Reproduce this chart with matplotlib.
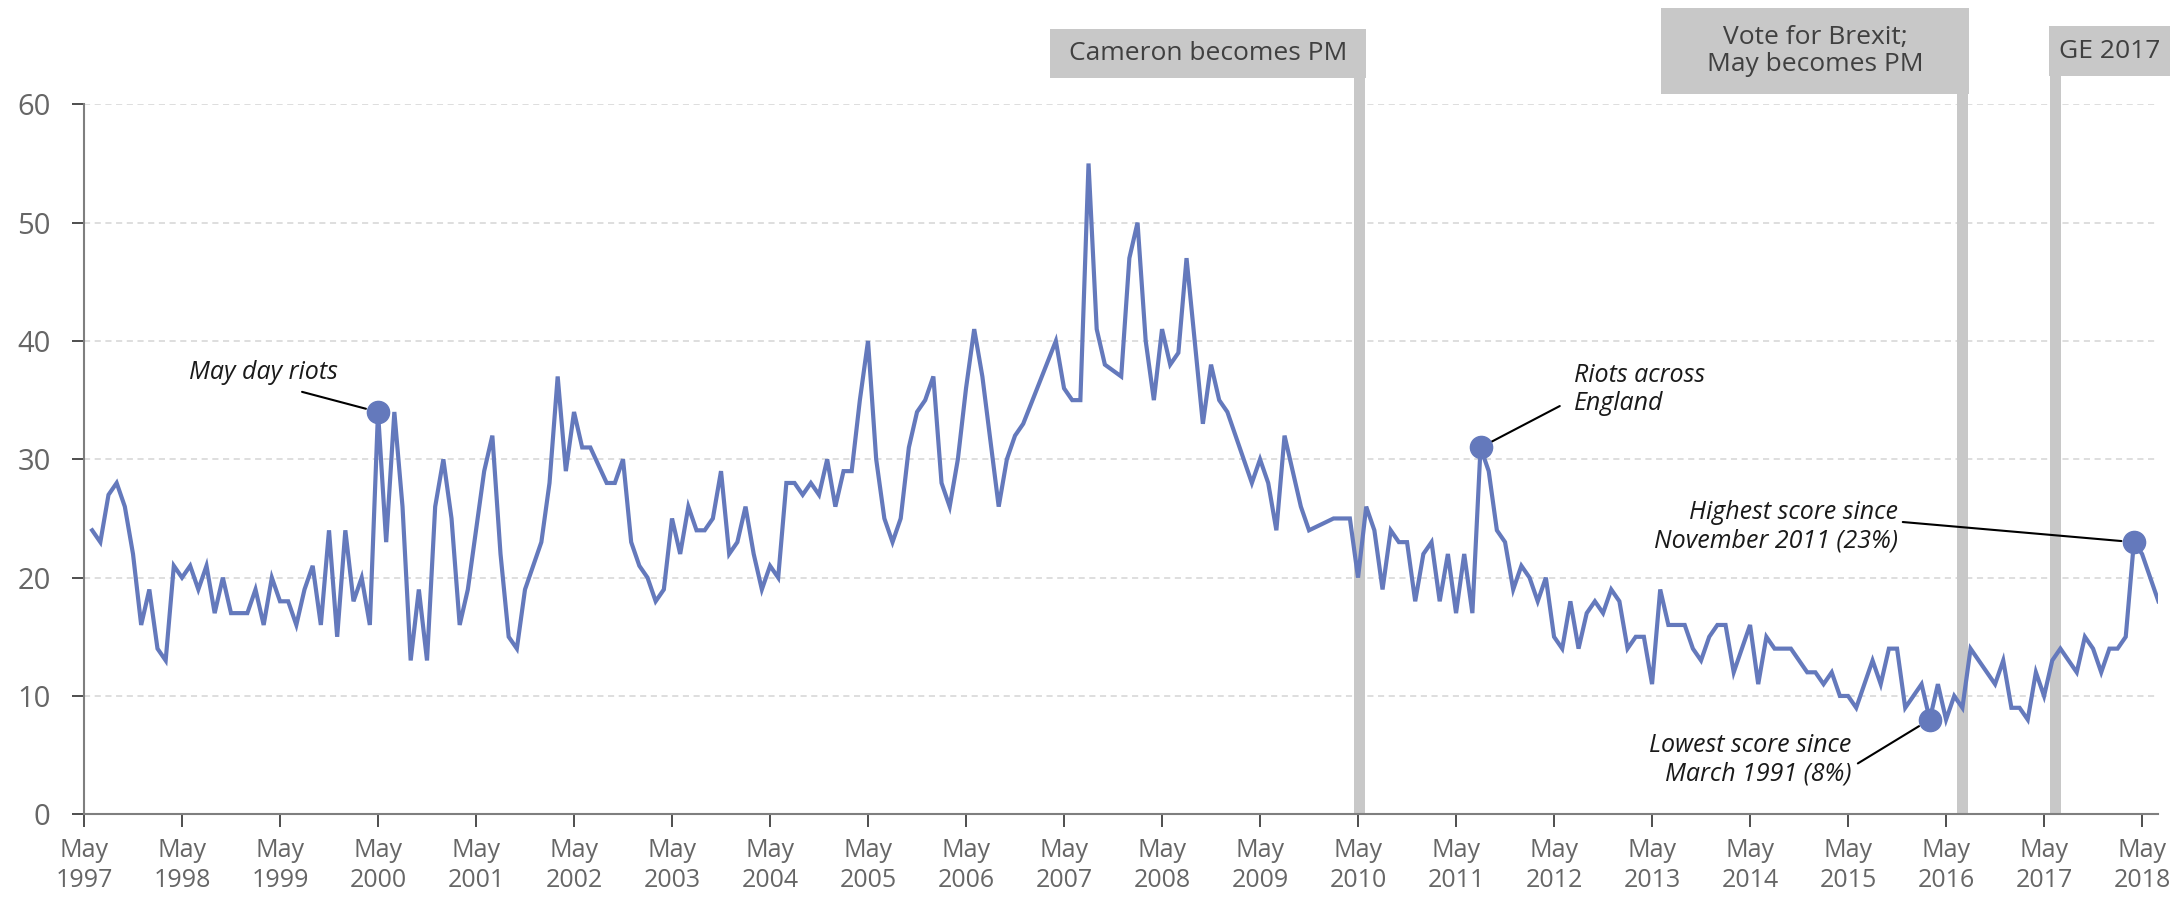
import matplotlib
matplotlib.use("Agg")
import matplotlib.pyplot as plt
from matplotlib.patches import Rectangle

plt.rcParams['font.family'] = ['Open Sans', 'DejaVu Sans']

# months counted from May 1997 (0 = May 1997); missing months are simply left out
months = [1, 2, 3, 4, 5, 6, 7, 8, 9, 10, 11, 12, 13, 14, 15, 16, 17, 18, 19, 20,
          21, 22, 23, 24, 25, 26, 27, 28, 29, 30, 31, 32, 33, 34, 35, 36, 37, 38, 39, 40,
          41, 42, 43, 44, 45, 46, 47, 48, 49, 50, 51, 52, 53, 54, 55, 56, 57, 58, 59, 60,
          61, 62, 64, 65, 66, 67, 68, 69, 70, 71, 72, 73, 74, 75, 76, 77, 78, 79, 80, 81,
          82, 83, 84, 85, 86, 87, 88, 89, 90, 91, 92, 93, 94, 95, 96, 97, 98, 99, 100, 101,
          102, 103, 104, 105, 106, 107, 108, 109, 110, 112, 113, 114, 115, 119, 120, 121,
          122, 123, 124, 125, 127, 128, 129, 130, 131, 132, 133, 134, 135, 136, 137, 138,
          139, 140, 143, 144, 145, 146, 147, 149, 150, 153, 155, 156, 157, 158, 159, 160,
          161, 162, 163, 164, 165, 166, 167, 168, 169, 170, 171, 172, 173, 174, 175, 176,
          177, 178, 179, 180, 181, 182, 183, 184, 185, 186, 187, 188, 189, 190, 191, 192,
          193, 194, 195, 196, 197, 198, 199, 200, 201, 202, 203, 204, 205, 206, 207, 208,
          209, 210, 211, 212, 213, 214, 215, 216, 217, 218, 219, 220, 221, 222, 223, 224,
          225, 226, 227, 228, 229, 230, 231, 232, 233, 234, 235, 236, 237, 238, 239, 240,
          241, 242, 243, 244, 245, 246, 247, 248, 249, 250, 251, 252, 253, 254]
crime = [24, 23, 27, 28, 26, 22, 16, 19, 14, 13, 21, 20, 21, 19, 21, 17, 20, 17, 17, 17,
         19, 16, 20, 18, 18, 16, 19, 21, 16, 24, 15, 24, 18, 20, 16, 34, 23, 34, 26, 13,
         19, 13, 26, 30, 25, 16, 19, 24, 29, 32, 22, 15, 14, 19, 21, 23, 28, 37, 29, 34,
         31, 31, 28, 28, 30, 23, 21, 20, 18, 19, 25, 22, 26, 24, 24, 25, 29, 22, 23, 26,
         22, 19, 21, 20, 28, 28, 27, 28, 27, 30, 26, 29, 29, 35, 40, 30, 25, 23, 25, 31,
         34, 35, 37, 28, 26, 30, 36, 41, 37, 26, 30, 32, 33, 40, 36, 35,
         35, 55, 41, 38, 37, 47, 50, 40, 35, 41, 38, 39, 47, 40, 33, 38,
         35, 34, 28, 30, 28, 24, 32, 26, 24, 25, 25, 20, 26, 24, 19, 24,
         23, 23, 18, 22, 23, 18, 22, 17, 22, 17, 31, 29, 24, 23, 19, 21,
         20, 18, 20, 15, 14, 18, 14, 17, 18, 17, 19, 18, 14, 15, 15, 11,
         19, 16, 16, 16, 14, 13, 15, 16, 16, 12, 14, 16, 11, 15, 14, 14,
         14, 13, 12, 12, 11, 12, 10, 10, 9, 11, 13, 11, 14, 14, 9, 10,
         11, 8, 11, 8, 10, 9, 14, 13, 12, 11, 13, 9, 9, 8, 12, 10,
         13, 14, 13, 12, 15, 14, 12, 14, 14, 15, 23, 22, 20, 18]

tick_years = list(range(1997, 2019))
tick_labels = ["May\n%d" % y for y in tick_years]

event_labels = ["Cameron becomes PM", "Vote for Brexit;\nMay becomes PM", "GE 2017"]
event_months = [156.2, 230, 241.4]

callout_months = [36, 171, 226, 251]
callout_texts = ["May day riots", "Riots across\nEngland",
                 "Lowest score since\nMarch 1991 (8%)",
                 "Highest score since\nNovember 2011 (23%)"]

blue = '#6479bc'
grey_bar = '#c8c8c8'

fig = plt.figure(figsize=(21.74, 9.02), dpi=100)
ax = fig.add_axes([84 / 2174, 1 - 814.3 / 902, (2158.4 - 84) / 2174, 710 / 902])

# event bars + label boxes (drawn above the plot area)
box_specs = [  # (box left, box right) in months, (bottom, top) in values
    ((118.3, 157.0), (62.2, 66.4)),
    ((193.1, 230.8), (60.9, 68.1)),
    ((240.6, 255.4), (62.4, 66.6)),
]
for em, lab, (bx, by) in zip(event_months, event_labels, box_specs):
    ax.add_patch(Rectangle((em - 0.7, 0), 1.4, by[0], color=grey_bar, lw=0,
                           clip_on=False, zorder=1))
    ax.add_patch(Rectangle((bx[0], by[0]), bx[1] - bx[0], by[1] - by[0],
                           color=grey_bar, lw=0, clip_on=False, zorder=1))
    ax.text((bx[0] + bx[1]) / 2, (by[0] + by[1]) / 2, lab, ha='center', va='center',
            fontsize=19, color='#404040', linespacing=1.1, zorder=2)

ax.plot(months, crime, color=blue, lw=3, zorder=3, solid_joinstyle='miter')

lookup = dict(zip(months, crime))
ax.plot(callout_months, [lookup[m] for m in callout_months], 'o', color=blue,
        ms=16, zorder=4, ls='none')

# callout texts and leader lines
txt_pos = [(22.0, 37.3, 'center'), (182.4, 35.9, 'left'),
           (216.4, 4.6, 'right'), (222.1, 24.3, 'right')]
lead_start = [(26.7, 35.7), (180.7, 34.5), (217.2, 4.3), (222.7, 24.7)]
for m, t, (tx, ty, ha), st in zip(callout_months, callout_texts, txt_pos, lead_start):
    ax.text(tx, ty, t, ha=ha, va='center', fontsize=18, style='italic',
            color='#1a1a1a', linespacing=1.2)
    ax.annotate("", xy=(m, lookup[m]), xytext=st,
                arrowprops=dict(arrowstyle='-', color='black', lw=1.5,
                                shrinkA=0, shrinkB=9))

ax.set_xlim(0, 254)
ax.set_ylim(0, 60)
ax.set_xticks([12 * i for i in range(len(tick_years))])
ax.set_xticklabels(tick_labels)
ax.set_yticks(range(0, 61, 10))

ax.yaxis.grid(True, ls=(0, (4, 3)), color='#d4d4d4', lw=1.1)
ax.set_axisbelow(True)
for s in ['top', 'right']:
    ax.spines[s].set_visible(False)
for s in ['left', 'bottom']:
    ax.spines[s].set_color('#7f7f7f')
    ax.spines[s].set_linewidth(1.5)
ax.tick_params(axis='both', direction='out', length=9, width=1.3, color='#404040',
               labelcolor='#666666')
ax.tick_params(axis='x', pad=8, labelsize=18)
ax.tick_params(axis='y', pad=15, labelsize=21)
for lbl in ax.get_xticklabels():
    lbl.set_linespacing(1.25)

fig.savefig('out.png', dpi=100)
